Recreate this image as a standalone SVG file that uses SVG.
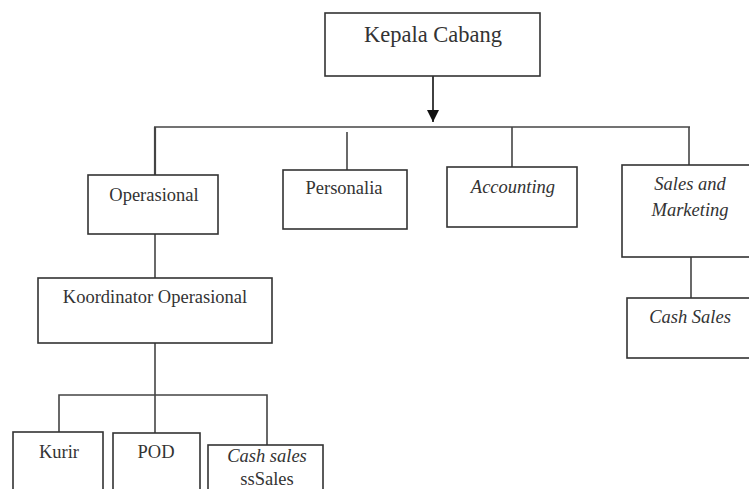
<svg xmlns="http://www.w3.org/2000/svg" width="749" height="489" viewBox="0 0 749 489">
<style>
.box{fill:#fff;stroke:#333;stroke-width:1.6}
.ln{fill:none;stroke:#444;stroke-width:1.6}
text{font-family:'Liberation Serif','Tinos','Times New Roman','DejaVu Serif',serif;font-size:18.5px;fill:#333;text-anchor:middle}
.it{font-style:italic}
</style>
<defs>
<marker id="ah" markerWidth="12" markerHeight="12" refX="11" refY="5.5" orient="auto" markerUnits="userSpaceOnUse" viewBox="0 0 11 11">
<path d="M0,0 L11,5.5 L0,11 Z" fill="#111"/>
</marker>
</defs>
<g id="connectors">
<line class="ln" x1="433" y1="76" x2="433" y2="122" marker-end="url(#ah)" style="stroke:#111"/>
<line class="ln" x1="154" y1="127" x2="690" y2="127"/>
<line class="ln" x1="155" y1="127" x2="155" y2="175" style="stroke-width:2.2"/>
<line class="ln" x1="347" y1="132" x2="347" y2="170"/>
<line class="ln" x1="512" y1="127" x2="512" y2="167"/>
<line class="ln" x1="689" y1="127" x2="689" y2="165"/>
<line class="ln" x1="155" y1="234" x2="155" y2="278"/>
<line class="ln" x1="691" y1="257" x2="691" y2="298"/>
<line class="ln" x1="155" y1="343" x2="155" y2="433"/>
<polyline class="ln" points="59,432 59,395 267,395 267,445"/>
</g>
<g id="kepala-cabang"><rect class="box" x="325" y="13" width="215" height="63"/><text x="433" y="42" style="font-size:22.5px">Kepala Cabang</text></g>
<g id="operasional"><rect class="box" x="88" y="175" width="130" height="59"/><text x="154" y="201">Operasional</text></g>
<g id="personalia"><rect class="box" x="283" y="170" width="124" height="59"/><text x="344" y="194">Personalia</text></g>
<g id="accounting"><rect class="box" x="447" y="167" width="130" height="60"/><text class="it" x="513" y="193">Accounting</text></g>
<g id="sales-marketing"><rect class="box" x="622" y="165" width="140" height="92"/><text class="it" x="690" y="190">Sales and</text><text class="it" x="690" y="216">Marketing</text></g>
<g id="cash-sales"><rect class="box" x="627" y="298" width="135" height="60"/><text class="it" x="690" y="323">Cash Sales</text></g>
<g id="koordinator"><rect class="box" x="38" y="278" width="234" height="65"/><text x="155" y="303">Koordinator Operasional</text></g>
<g id="kurir"><rect class="box" x="13" y="432" width="90" height="70"/><text x="59" y="458">Kurir</text></g>
<g id="pod"><rect class="box" x="113" y="433" width="87" height="70"/><text x="156" y="458">POD</text></g>
<g id="cash-sales-ops"><rect class="box" x="208" y="445" width="115" height="60"/><text class="it" x="267" y="462">Cash sales</text><text x="267" y="485">ssSales</text></g>
</svg>
